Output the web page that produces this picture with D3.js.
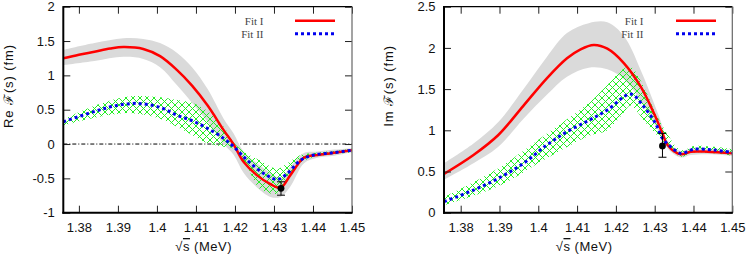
<!DOCTYPE html>
<html><head><meta charset="utf-8">
<script src="https://cdn.jsdelivr.net/npm/d3@7/dist/d3.min.js"></script>
<style>
html,body{margin:0;padding:0;background:#fff;}
svg{display:block;font-family:"Liberation Sans",Arial,Helvetica,sans-serif;}
</style></head>
<body>
<svg id="chart" width="747" height="256"></svg>
<script>
// ---------- data ----------
const xTicks = [1.38, 1.39, 1.4, 1.41, 1.42, 1.43, 1.44, 1.45];
const reTicks = [-1, -0.5, 0, 0.5, 1, 1.5, 2];
const imTicks = [0, 0.5, 1, 1.5, 2, 2.5];
const legendLabels = ["Fit I", "Fit II"];

// Re F(s) — Fit I (red) and its band (grey)
const reFit1X = [1.376, 1.380, 1.384, 1.388, 1.3914, 1.3965, 1.4008, 1.4051, 1.4090, 1.4130, 1.4171, 1.4197, 1.4222, 1.4256, 1.4291, 1.4317, 1.4342, 1.4377, 1.4411, 1.4454, 1.4500];
const reFit1Y = [1.248, 1.30, 1.344, 1.39, 1.412, 1.385, 1.28, 1.08, 0.85, 0.56, 0.203, -0.01, -0.259, -0.453, -0.585, -0.638, -0.453, -0.20, -0.16, -0.128, -0.089];
const reBandX  = [1.376, 1.384, 1.3914, 1.3965, 1.4008, 1.4051, 1.409, 1.413, 1.4171, 1.4197, 1.4222, 1.4256, 1.4291, 1.4317, 1.4342, 1.4377, 1.4411, 1.4454, 1.45];
const reBandLo = [1.15, 1.21, 1.27, 1.24, 1.12, 0.86, 0.60, 0.32, 0.0, -0.16, -0.42, -0.63, -0.77, -0.77, -0.62, -0.28, -0.20, -0.17, -0.12];
const reBandHi = [1.37, 1.47, 1.54, 1.53, 1.47, 1.33, 1.12, 0.80, 0.37, 0.15, -0.11, -0.28, -0.42, -0.50, -0.33, -0.13, -0.11, -0.08, -0.06];
// Re F(s) — Fit II (blue) and its band (green hatch)
const reFit2X = [1.376, 1.3837, 1.389, 1.395, 1.4008, 1.4051, 1.409, 1.413, 1.4171, 1.4197, 1.4231, 1.4274, 1.4308, 1.4334, 1.4368, 1.4402, 1.4454, 1.45];
const reFit2Y = [0.324, 0.469, 0.553, 0.592, 0.534, 0.421, 0.34, 0.227, 0.082, -0.04, -0.235, -0.429, -0.516, -0.43, -0.235, -0.16, -0.125, -0.09];
const reHatchX  = [1.376, 1.3837, 1.3914, 1.395, 1.4008, 1.4051, 1.409, 1.413, 1.4171, 1.4197, 1.4231, 1.4265, 1.4308, 1.4334, 1.4368, 1.4402, 1.4454, 1.45];
const reHatchLo = [0.27, 0.38, 0.45, 0.44, 0.37, 0.25, 0.13, 0.01, -0.04, -0.07, -0.33, -0.66, -0.72, -0.53, -0.28, -0.19, -0.15, -0.12];
const reHatchHi = [0.36, 0.55, 0.68, 0.70, 0.68, 0.64, 0.60, 0.48, 0.25, 0.02, -0.14, -0.24, -0.36, -0.28, -0.16, -0.13, -0.10, -0.07];
// Re data point
const rePointX = [1.4318], rePointY = [-0.645], rePointLo = [-0.745], rePointHi = [-0.55];

// Im F(s) — Fit I
const imFit1X = [1.3757, 1.3833, 1.3897, 1.3962, 1.4022, 1.4074, 1.4109, 1.4143, 1.4178, 1.4221, 1.4264, 1.4298, 1.4320, 1.4333, 1.4367, 1.4393, 1.4436, 1.45];
const imFit1Y = [0.47, 0.70, 0.943, 1.30, 1.631, 1.874, 1.983, 2.035, 1.99, 1.813, 1.529, 1.206, 0.963, 0.822, 0.709, 0.74, 0.74, 0.72];
const imBandX  = [1.3757, 1.3833, 1.3897, 1.3962, 1.4022, 1.4074, 1.413, 1.4178, 1.4221, 1.4264, 1.4298, 1.4320, 1.4333, 1.4367, 1.4393, 1.4436, 1.45];
const imBandLo = [0.40, 0.60, 0.80, 1.14, 1.43, 1.65, 1.76, 1.74, 1.62, 1.36, 1.10, 0.89, 0.78, 0.67, 0.70, 0.71, 0.69];
const imBandHi = [0.60, 0.84, 1.10, 1.50, 1.89, 2.18, 2.30, 2.31, 2.14, 1.73, 1.33, 1.05, 0.87, 0.75, 0.78, 0.78, 0.76];
// Im F(s) — Fit II
const imFit2X = [1.3757, 1.3833, 1.3897, 1.3962, 1.4022, 1.4074, 1.4130, 1.4178, 1.4238, 1.4272, 1.4302, 1.432, 1.4346, 1.4367, 1.4402, 1.4453, 1.45];
const imFit2Y = [0.134, 0.275, 0.417, 0.60, 0.822, 0.983, 1.12, 1.246, 1.44, 1.286, 1.085, 0.903, 0.782, 0.72, 0.77, 0.76, 0.73];
const imHatchX  = [1.3757, 1.3897, 1.4022, 1.413, 1.4178, 1.4221, 1.4238, 1.4272, 1.4302, 1.4327, 1.4367, 1.4402, 1.4453, 1.45];
const imHatchLo = [0.09, 0.32, 0.66, 0.93, 1.00, 1.22, 1.30, 1.12, 0.96, 0.84, 0.68, 0.73, 0.72, 0.69];
const imHatchHi = [0.19, 0.54, 0.96, 1.33, 1.55, 1.75, 1.77, 1.53, 1.21, 1.00, 0.76, 0.81, 0.80, 0.77];
// Im data point
const imPointX = [1.432], imPointY = [0.81], imPointLo = [0.673], imPointHi = [0.963];

// ---------- drawing ----------
const svg = d3.select("#chart");
const defs = svg.append("defs");
const pat = defs.append("pattern").attr("id", "hatch").attr("patternUnits", "userSpaceOnUse")
  .attr("width", 7).attr("height", 7);
pat.append("path").attr("d", "M0,0L7,7M7,0L0,7M-1,6L1,8M6,-1L8,1").attr("stroke", "#22ee22").attr("stroke-width", 1).attr("fill", "none");

function zip(xs, ys) { return xs.map((x, i) => [x, ys[i]]); }

function panel(cfg) {
  const x = d3.scaleLinear().domain(cfg.xDomain).range([cfg.left, cfg.right]);
  const y = d3.scaleLinear().domain(cfg.yDomain).range([cfg.bottom, cfg.top]);
  const g = svg.append("g");
  const clipId = "clip" + cfg.id;
  defs.append("clipPath").attr("id", clipId).append("rect")
    .attr("x", cfg.left).attr("y", cfg.top).attr("width", cfg.right - cfg.left).attr("height", cfg.bottom - cfg.top);
  const plot = g.append("g").attr("clip-path", `url(#${clipId})`);

  const curve = d3.curveCatmullRom.alpha(0.5);
  const area = d3.area().x(d => x(d[0])).y0(d => y(d[1])).y1(d => y(d[2])).curve(curve);
  const line = d3.line().x(d => x(d[0])).y(d => y(d[1])).curve(curve);

  if (cfg.zero) {
    plot.append("line").attr("x1", cfg.left).attr("x2", cfg.right).attr("y1", y(0)).attr("y2", y(0))
      .attr("stroke", "#000").attr("stroke-width", 1).attr("stroke-dasharray", "4,2,1,2");
  }
  plot.append("path").datum(cfg.bandX.map((v, i) => [v, cfg.bandLo[i], cfg.bandHi[i]]))
    .attr("d", area).attr("fill", "#dadada");
  plot.append("path").datum(cfg.hatchX.map((v, i) => [v, cfg.hatchLo[i], cfg.hatchHi[i]]))
    .attr("d", area).attr("fill", "url(#hatch)");
  plot.append("path").datum(zip(cfg.fit1X, cfg.fit1Y)).attr("d", line)
    .attr("fill", "none").attr("stroke", "#ff0000").attr("stroke-width", 2.5);
  plot.append("path").datum(zip(cfg.fit2X, cfg.fit2Y)).attr("d", line)
    .attr("fill", "none").attr("stroke", "#0000ee").attr("stroke-width", 3).attr("stroke-dasharray", "3,3");

  // data point with error bar
  cfg.ptX.forEach((px, i) => {
    const cx = x(px);
    g.append("line").attr("x1", cx).attr("x2", cx).attr("y1", y(cfg.ptLo[i])).attr("y2", y(cfg.ptHi[i]))
      .attr("stroke", "#000").attr("stroke-width", 1);
    [cfg.ptLo[i], cfg.ptHi[i]].forEach(v => {
      g.append("line").attr("x1", cx - 4).attr("x2", cx + 4).attr("y1", y(v)).attr("y2", y(v))
        .attr("stroke", "#000").attr("stroke-width", 1);
    });
    g.append("circle").attr("cx", cx).attr("cy", y(cfg.ptY[i])).attr("r", 3.4).attr("fill", "#000");
  });

  // axes
  const fmt = d => String(d);
  const font = sel => sel.selectAll("text").attr("font-size", 13).attr("fill", "#111")
    .attr("font-family", '"Liberation Sans",Arial,sans-serif');
  const tickStyle = sel => { sel.select(".domain").remove(); sel.selectAll("line").attr("stroke", "#222"); };
  g.append("g").attr("transform", `translate(0,${cfg.bottom})`)
    .call(d3.axisBottom(x).tickValues(xTicks).tickSize(-7).tickPadding(10).tickFormat(fmt))
    .call(tickStyle).call(font);
  g.append("g").attr("transform", `translate(0,${cfg.top})`)
    .call(d3.axisTop(x).tickValues(xTicks).tickSize(-7).tickFormat(""))
    .call(tickStyle);
  g.append("g").attr("transform", `translate(${cfg.left},0)`)
    .call(d3.axisLeft(y).tickValues(cfg.yTicks).tickSize(-7).tickPadding(8.5).tickFormat(fmt))
    .call(tickStyle).call(font);
  g.append("g").attr("transform", `translate(${cfg.right},0)`)
    .call(d3.axisRight(y).tickValues(cfg.yTicks).tickSize(-7).tickFormat(""))
    .call(tickStyle);

  // frame
  g.append("line").attr("x1", cfg.left).attr("x2", cfg.right).attr("y1", cfg.top).attr("y2", cfg.top)
    .attr("stroke", "#000").attr("stroke-width", 1.2);
  g.append("line").attr("x1", cfg.right).attr("x2", cfg.right).attr("y1", cfg.top).attr("y2", cfg.bottom)
    .attr("stroke", "#666").attr("stroke-width", 1.2);
  g.append("line").attr("x1", cfg.left).attr("x2", cfg.left).attr("y1", cfg.top - 0.6).attr("y2", cfg.bottom + 1)
    .attr("stroke", "#000").attr("stroke-width", 2);
  g.append("line").attr("x1", cfg.left - 1).attr("x2", cfg.right + 0.6).attr("y1", cfg.bottom).attr("y2", cfg.bottom)
    .attr("stroke", "#000").attr("stroke-width", 2);

  // legend
  const lg = g.append("g");
  const rows = [{ c: "#ff0000", dash: null, w: 2.5, dy: 0 }, { c: "#0000ee", dash: "3,3", w: 3, dy: 13 }];
  rows.forEach((r, i) => {
    lg.append("text").attr("x", cfg.legTextX).attr("y", 25 + r.dy).attr("text-anchor", "end")
      .attr("font-family", '"Liberation Serif","Times New Roman",serif').attr("font-size", 11)
      .attr("fill", "#444").text(legendLabels[i]);
    lg.append("line").attr("x1", cfg.legLineX).attr("x2", cfg.legLineX + 40)
      .attr("y1", 20.8 + r.dy).attr("y2", 20.8 + r.dy)
      .attr("stroke", r.c).attr("stroke-width", r.w).attr("stroke-dasharray", r.dash);
  });

  // y label
  g.append("text").attr("transform", `translate(${cfg.yLabX},86) rotate(-90)`)
    .attr("text-anchor", "middle").attr("dy", "0.35em").attr("font-size", 13).attr("fill", "#111")
    .attr("letter-spacing", 0.9)
    .text(cfg.yLabel);
  // x label
  const xl = g.append("text").attr("x", (cfg.left + cfg.right) / 2 - 4).attr("y", 251)
    .attr("text-anchor", "middle").attr("font-size", 13).attr("fill", "#111").attr("letter-spacing", 0.5);
  xl.append("tspan").text("√");
  xl.append("tspan").attr("text-decoration", "overline").text("s");
  xl.append("tspan").text(" (MeV)");
}

panel({
  id: "re", left: 63.3, right: 352, top: 6.7, bottom: 212.7,
  xDomain: [1.376, 1.45], yDomain: [-1, 2], yTicks: reTicks, zero: true,
  fit1X: reFit1X, fit1Y: reFit1Y, bandX: reBandX, bandLo: reBandLo, bandHi: reBandHi,
  fit2X: reFit2X, fit2Y: reFit2Y, hatchX: reHatchX, hatchLo: reHatchLo, hatchHi: reHatchHi,
  ptX: rePointX, ptY: rePointY, ptLo: rePointLo, ptHi: rePointHi,
  legTextX: 263.5, legLineX: 295, yLabX: 8, yLabel: "Re ℱ(s) (fm)"
});
panel({
  id: "im", left: 444, right: 732.3, top: 6.7, bottom: 212.7,
  xDomain: [1.3757, 1.45], yDomain: [0, 2.5], yTicks: imTicks, zero: false,
  fit1X: imFit1X, fit1Y: imFit1Y, bandX: imBandX, bandLo: imBandLo, bandHi: imBandHi,
  fit2X: imFit2X, fit2Y: imFit2Y, hatchX: imHatchX, hatchLo: imHatchLo, hatchHi: imHatchHi,
  ptX: imPointX, ptY: imPointY, ptLo: imPointLo, ptHi: imPointHi,
  legTextX: 643.5, legLineX: 676, yLabX: 388, yLabel: "Im ℱ(s) (fm)"
});
</script>
</body></html>
